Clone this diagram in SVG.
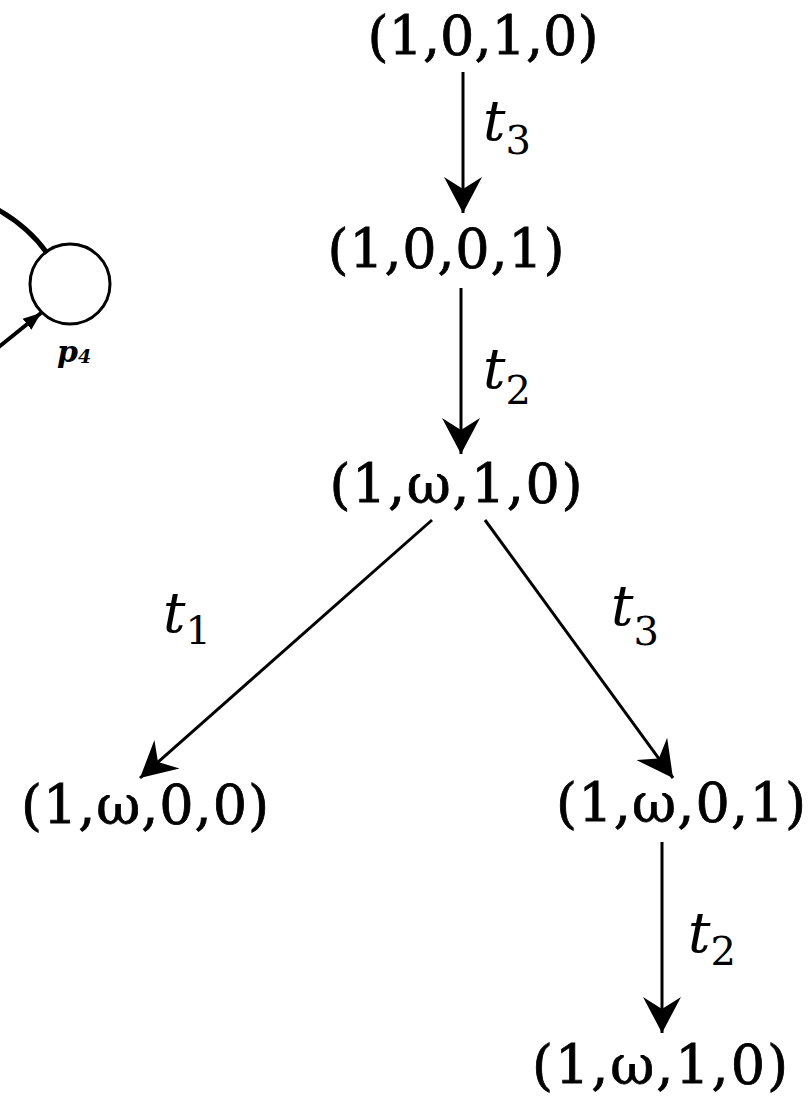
<svg xmlns="http://www.w3.org/2000/svg" width="810" height="1096" viewBox="0 0 810 1096">
<style>
.st{font-family:"DejaVu Serif","Liberation Serif",serif;font-size:54px;fill:#000;stroke:#000;stroke-width:0.8;text-anchor:middle}
.lb{font-family:"DejaVu Serif","Liberation Serif",serif;font-style:italic;fill:#000}
.t{font-size:56px}
.s{font-size:40px;font-style:normal}
.e{fill:none;stroke:#000;stroke-width:3}
</style>
<defs>
<marker id="ah" markerUnits="userSpaceOnUse" markerWidth="40" markerHeight="46" viewBox="0 0 40 46" refX="36" refY="23" orient="auto">
<path d="M0,4 L36,23 L0,42 L12,23 Z" fill="#000"/>
</marker>
<marker id="ahs" markerUnits="userSpaceOnUse" markerWidth="20" markerHeight="16" viewBox="0 0 20 16" refX="18" refY="8" orient="auto">
<path d="M0,1 L18,8 L0,15 Z" fill="#000"/>
</marker>
</defs>
<rect width="810" height="1096" fill="#fff"/>
<g id="petri-fragment">
<circle cx="70" cy="284" r="40" fill="none" stroke="#000" stroke-width="3"/>
<path d="M-5,208 Q28,226 47,253" fill="none" stroke="#000" stroke-width="5"/>
<line x1="-5" y1="350" x2="41" y2="313" stroke="#000" stroke-width="4" marker-end="url(#ahs)"/>
<text class="lb" x="57" y="362" font-size="30" font-weight="bold">p<tspan font-size="19" dy="1">4</tspan></text>
</g>
<g id="connectors">
<line class="e" x1="463" y1="72" x2="463" y2="213" marker-end="url(#ah)"/>
<line class="e" x1="461" y1="288" x2="461" y2="454" marker-end="url(#ah)"/>
<line class="e" x1="432" y1="520" x2="140" y2="778" marker-end="url(#ah)"/>
<line class="e" x1="485" y1="520" x2="673" y2="778" marker-end="url(#ah)"/>
<line class="e" x1="662" y1="842" x2="662" y2="1033" marker-end="url(#ah)"/>
<text class="lb" x="483" y="140"><tspan class="t">t</tspan><tspan class="s" dy="14">3</tspan></text>
<text class="lb" x="483" y="388"><tspan class="t">t</tspan><tspan class="s" dy="16">2</tspan></text>
<text class="lb" x="163" y="632"><tspan class="t">t</tspan><tspan class="s" dy="12">1</tspan></text>
<text class="lb" x="611" y="625"><tspan class="t">t</tspan><tspan class="s" dy="20">3</tspan></text>
<text class="lb" x="688" y="952"><tspan class="t">t</tspan><tspan class="s" dy="13">2</tspan></text>
</g>
<g id="n1"><text class="st" x="483" y="55" textLength="231" lengthAdjust="spacing">(1,0,1,0)</text></g>
<g id="n2"><text class="st" x="446" y="268" textLength="237" lengthAdjust="spacing">(1,0,0,1)</text></g>
<g id="n3"><text class="st" x="456" y="503" textLength="253" lengthAdjust="spacing">(1,ω,1,0)</text></g>
<g id="n4"><text class="st" x="145" y="824" textLength="248" lengthAdjust="spacing">(1,ω,0,0)</text></g>
<g id="n5"><text class="st" x="681" y="822" textLength="250" lengthAdjust="spacing">(1,ω,0,1)</text></g>
<g id="n6"><text class="st" x="660" y="1084" textLength="256" lengthAdjust="spacing">(1,ω,1,0)</text></g>
</svg>
